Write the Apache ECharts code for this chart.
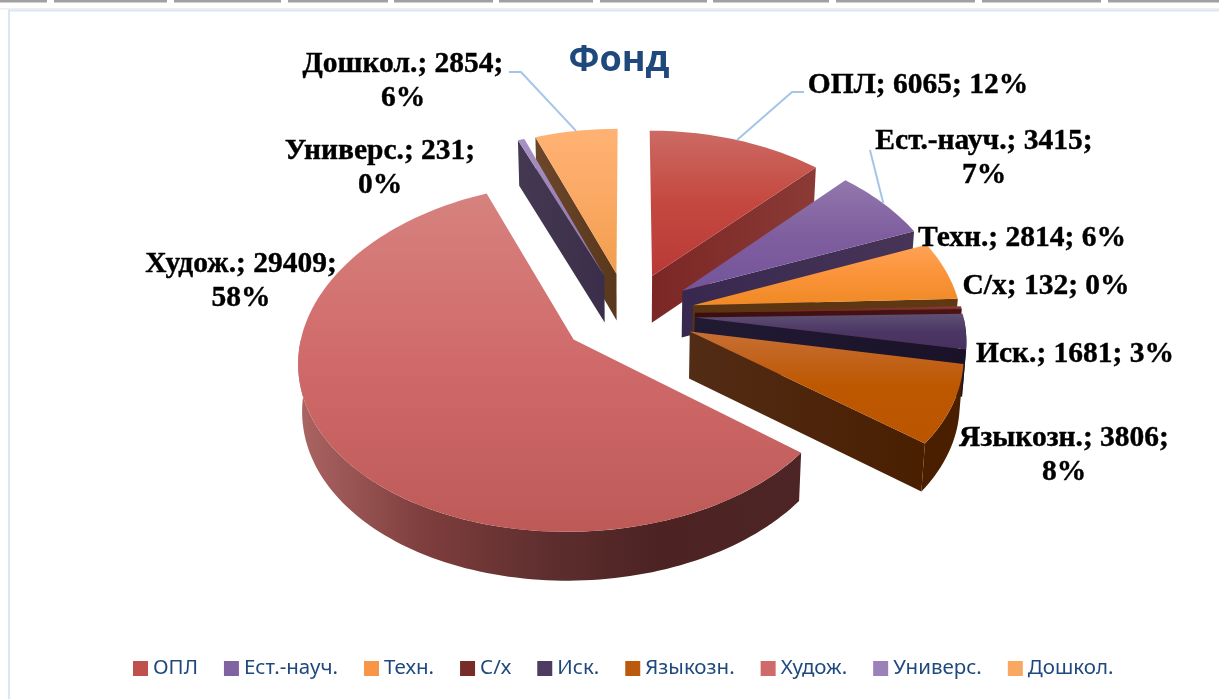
<!DOCTYPE html>
<html>
<head>
<meta charset="utf-8">
<title>Фонд</title>
<style>
  html, body { margin: 0; padding: 0; background: #fff; }
  #chart { width: 1219px; height: 699px; }
</style>
<script src="https://cdn.jsdelivr.net/npm/echarts@6/dist/echarts.min.js"></script>
</head>
<body>
<div id="chart"></div>
<script>
const categories = ['ОПЛ', 'Ест.-науч.', 'Техн.', 'С/х', 'Иск.', 'Языкозн.', 'Худож.', 'Универс.', 'Дошкол.'];
const fund = [6065, 3415, 2814, 132, 1681, 3806, 29409, 231, 2854];
const percents = [12, 7, 6, 0, 3, 8, 58, 0, 6];

// top colour, mid colour, bottom colour of each slice's face
const faceColors = [
  ['#cc6a64', '#c4483f', '#b83a38'],
  ['#9178ac', '#7f5e9f', '#74559a'],
  ['#ffa356', '#fb9339', '#ef8a25'],
  ['#8f3f3f', '#7a2a2a', '#6e2020'],
  ['#5f5074', '#4c3764', '#47305f'],
  ['#c76f35', '#bd5700', '#bb5500'],
  ['#d6827e', '#d06a6a', '#bd5a58'],
  ['#a790c2', '#9a82b8', '#8f78ad'],
  ['#ffb274', '#fba863', '#ef9f4d']
];
const wallColors = [
  ['#7b2725', '#8b3a36'],
  ['#38284f', '#463556'],
  ['#5a3410', '#613812'],
  ['#3b0f0f', '#4a1414'],
  ['#201a33', '#1a1228'],
  ['#532c16', '#491f00'],
  ['#4c2222', '#4e2526'],
  ['#443852', '#3a2e4a'],
  ['#6b462a', '#5a381c']
];
const legendColors = ['#c0504d', '#8064a2', '#f79646', '#772c2a', '#4d3b62', '#bb5a0c', '#d06a6a', '#9a82b8', '#f8a860'];

// label text split and placement, in page pixels
const labelBreak = [false, true, false, false, false, true, true, true, true];
const labelAt = [
  [918, 85], [984, 158], [1022, 238], [1046, 286], [1075, 354],
  [1064, 455], [241, 281], [380, 168], [403, 81]
];
// leader elbow points for the labels that have one
const leaders = { 0: [[792, 92], [804, 92]], 1: [[870, 150]], 8: [[521, 72], [509, 72]] };

const total = fund.reduce((a, b) => a + b, 0);
const starts = [];
fund.reduce((acc, v, i) => { starts[i] = acc; return acc + v; }, 0);

// disc projection, fitted to the picture
const cx = 628, cy = 314, rx = 268, ry = 167.3, perspX = 0.115, perspY = 0.101, explode = 0.25, depth = 47;

function project(X, Y, down) {
  const sx = 1 / (1 + perspX * Y), sy = 1 / (1 + perspY * Y);
  let x = cx + rx * X * sx;
  let y = cy - ry * Y * sy;
  if (down) {
    x -= (x - cx) * 0.012;
    y += depth * (1 + (sy - 1) * 0.3);
  }
  return [x, y];
}

function sliceGeometry(i) {
  const a0 = starts[i] / total * Math.PI * 2;
  const a1 = (starts[i] + fund[i]) / total * Math.PI * 2;
  const mid = (a0 + a1) / 2;
  const ox = Math.sin(mid) * explode, oy = Math.cos(mid) * explode;
  const rim = (a) => [ox + Math.sin(a), oy + Math.cos(a)];
  return { a0, a1, mid, ox, oy, rim };
}

function polygon(points, fill, z2) {
  return { type: 'polygon', z2: z2, shape: { points: points }, style: { fill: fill } };
}
function vGrad(c) {
  const stops = c.length === 3 ? [0, 0.5, 1] : [0, 1];
  return new echarts.graphic.LinearGradient(0, 0, 0, 1, c.map((col, k) => ({ offset: stops[k], color: col })));
}
function hGrad(c) {
  return new echarts.graphic.LinearGradient(0, 0, 1, 0, c.map((col, k) => ({ offset: k / (c.length - 1), color: col })));
}

function wall(g, a, fill, z2) {
  const p = g.rim(a);
  return polygon([
    project(g.ox, g.oy), project(p[0], p[1]),
    project(p[0], p[1], true), project(g.ox, g.oy, true)
  ], fill, z2);
}

function renderSlice(i) {
  const g = sliceGeometry(i);
  const children = [];
  // radial walls that face the viewer
  if (Math.sin(g.a0) < 0) children.push(wall(g, g.a0, hGrad(wallColors[i]), 1));
  if (Math.sin(g.a1) > 0) children.push(wall(g, g.a1, hGrad(wallColors[i]), 1));
  // outer rim, only the near part of the circle
  const arcFrom = Math.max(g.a0, Math.PI / 2), arcTo = Math.min(g.a1, Math.PI * 1.5);
  if (arcTo > arcFrom) {
    const top = [], bottom = [];
    const steps = Math.max(4, Math.round((arcTo - arcFrom) * 40));
    for (let k = 0; k <= steps; k++) {
      const p = g.rim(arcFrom + (arcTo - arcFrom) * k / steps);
      top.push(project(p[0], p[1]));
      bottom.unshift(project(p[0], p[1], true));
    }
    const rimFill = i === 6
      ? new echarts.graphic.LinearGradient(1, 0, 0, 0, [
          { offset: 0, color: '#4e2526' }, { offset: 0.28, color: '#4c2222' },
          { offset: 0.5, color: '#5e2e2e' }, { offset: 0.75, color: '#7e3e3d' }, { offset: 1, color: '#ab6563' }
        ])
      : wallColors[i][1];
    children.push(polygon(top.concat(bottom), rimFill, 2));
  }
  // top face
  const face = [project(g.ox, g.oy)];
  const n = Math.max(4, Math.round((g.a1 - g.a0) * 40));
  for (let k = 0; k <= n; k++) {
    const p = g.rim(g.a0 + (g.a1 - g.a0) * k / n);
    face.push(project(p[0], p[1]));
  }
  children.push(polygon(face, vGrad(faceColors[i]), 3));
  return { type: 'group', children: children };
}

// far slices first so near ones paint over them
const paintOrder = [0, 8, 7, 1, 2, 3, 4, 5, 6];

const series = categories.map((name, i) => ({
  name: name,
  type: 'custom',
  coordinateSystem: 'none',
  silent: true,
  z: 2 + paintOrder.indexOf(i) / 10,
  itemStyle: { color: legendColors[i] },
  data: [fund[i]],
  renderItem: () => renderSlice(i)
}));

function labelText(i) {
  const head = categories[i] + '; ' + fund[i] + ';';
  return head + (labelBreak[i] ? '\n' : ' ') + percents[i] + '%';
}

const labelElements = categories.map((name, i) => ({
  type: 'text',
  x: labelAt[i][0],
  y: labelAt[i][1],
  z: 10,
  style: {
    text: labelText(i),
    font: 'bold 29.5px "Liberation Serif"',
    fill: '#000',
    stroke: '#000',
    lineWidth: 0.4,
    align: 'center',
    verticalAlign: 'middle',
    lineHeight: 34
  }
}));

const leaderElements = Object.keys(leaders).map((key) => {
  const i = Number(key);
  const g = sliceGeometry(i);
  const p = g.rim(g.mid);
  return {
    type: 'polyline',
    z: 9,
    shape: { points: [project(p[0], p[1])].concat(leaders[key]) },
    style: { stroke: '#a5c5e8', lineWidth: 2, fill: null }
  };
});

// the strip of tabs and the chart frame around the picture
const tabEdges = [[0, 47], [54, 167], [174, 281], [288, 388], [394, 493], [499, 593], [600, 707], [713, 829], [836, 975], [982, 1101], [1108, 1219]];
const frameElements = tabEdges.map((t) => ({
  type: 'rect',
  z: 0,
  shape: { x: t[0], y: 0, width: t[1] - t[0], height: 2.5 },
  style: { fill: '#a0a0a0' }
})).concat([
  { type: 'rect', z: 0, shape: { x: 0, y: 8, width: 1219, height: 1.5 }, style: { fill: '#f0f0ea' } },
  { type: 'rect', z: 0, shape: { x: 8, y: 9.5, width: 1211, height: 2 }, style: { fill: '#dbe6f6' } },
  { type: 'rect', z: 0, shape: { x: 8, y: 9.5, width: 2, height: 690 }, style: { fill: '#dbe6f6' } }
]);

const option = {
  animation: false,
  backgroundColor: '#fff',
  title: {
    text: 'Фонд',
    left: 614,
    top: 38,
    textAlign: 'center',
    textStyle: { fontFamily: '"Open Sans"', fontSize: 36, fontWeight: 'bold', color: '#1f497d' }
  },
  legend: {
    left: 133,
    top: 658,
    padding: 0,
    itemWidth: 15,
    itemHeight: 15,
    itemGap: 26,
    icon: 'rect',
    data: categories,
    textStyle: { fontFamily: '"Noto Sans"', fontSize: 20.5, color: '#1f497d' }
  },
  graphic: frameElements.concat(leaderElements, labelElements),
  series: series
};

const chart = echarts.init(document.getElementById('chart'));
chart.setOption(option);
</script>
</body>
</html>
